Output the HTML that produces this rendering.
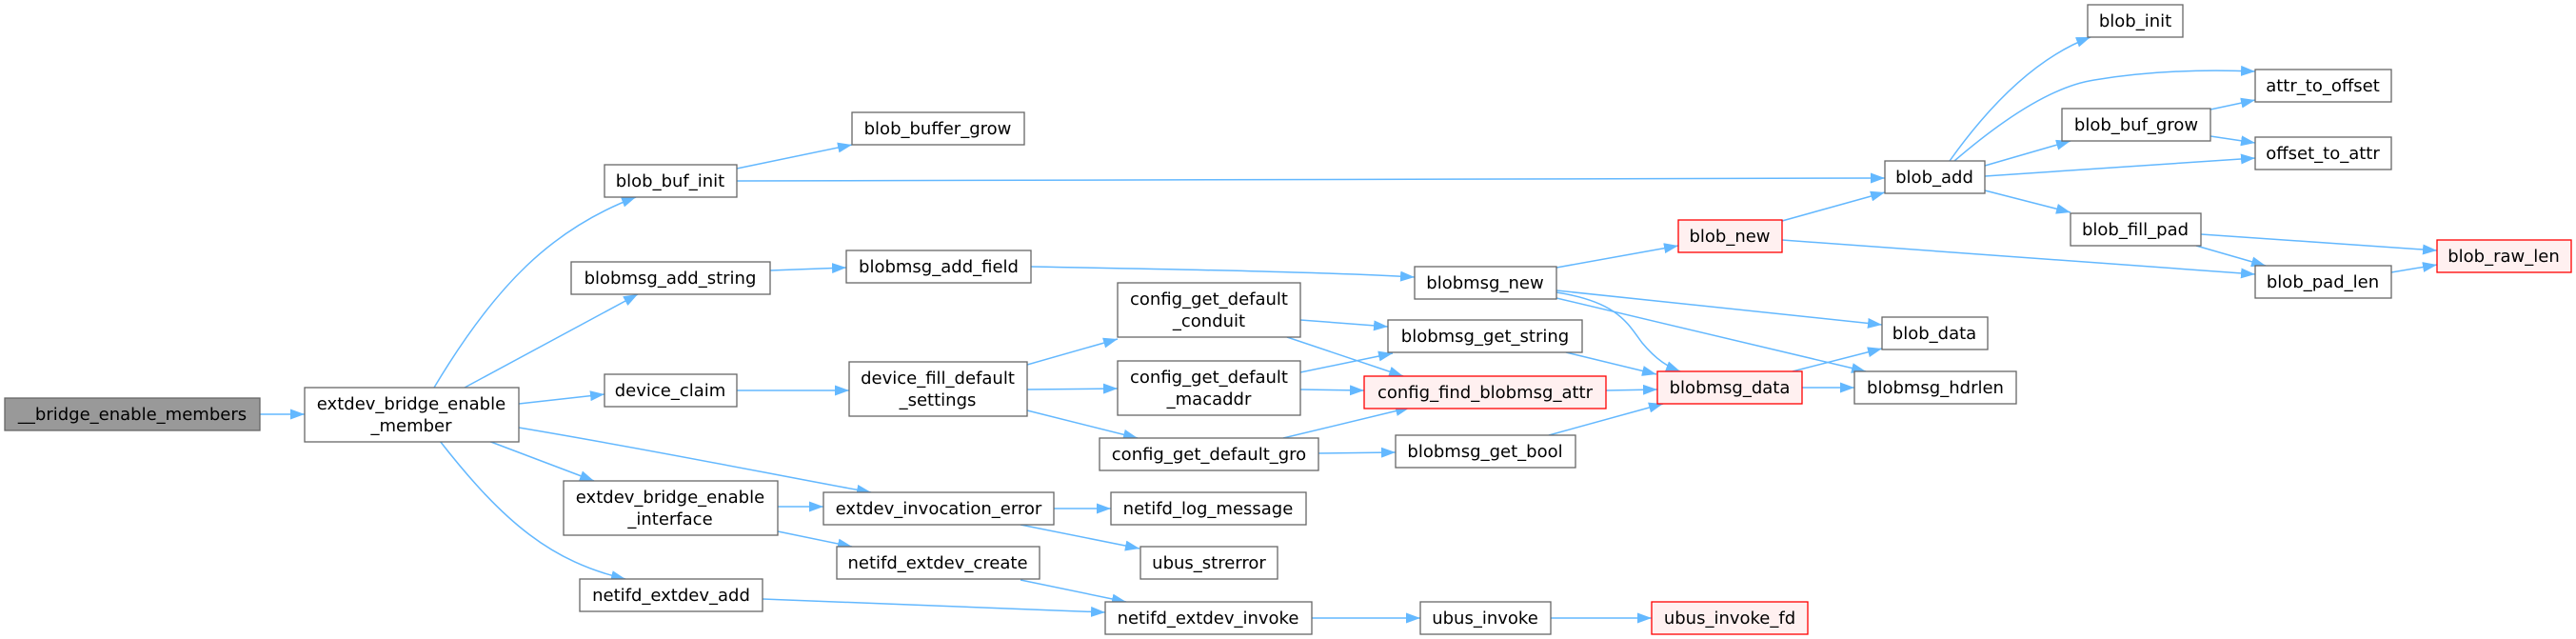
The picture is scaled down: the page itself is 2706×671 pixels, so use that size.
<!DOCTYPE html>
<html><head><meta charset="utf-8"><style>
html,body{margin:0;padding:0;background:#fff;}
svg{display:block;}
text{font-family:"DejaVu Sans","Liberation Sans",sans-serif;font-size:18px;fill:#000;text-anchor:middle;}
.n{fill:#fff;stroke:#666;stroke-width:1.3;}
.r{fill:#fff0f0;stroke:#ff0000;stroke-width:1.3;}
.g{fill:#999;stroke:#666;stroke-width:1.3;}
.e{fill:none;stroke:#63b8ff;stroke-width:1.5;marker-end:url(#a);}
</style></head><body>
<svg width="2706" height="671" viewBox="0 0 2706 671" xmlns="http://www.w3.org/2000/svg">
<defs><marker id="a" markerUnits="userSpaceOnUse" markerWidth="15" markerHeight="11" refX="15" refY="5.5" orient="auto"><path d="M0,0 L15,5.5 L0,11 z" fill="#63b8ff"/></marker></defs>
<g>
<path class="e" d="M273,435 L320,435"/>
<path class="e" d="M456,407 C520,300 580,240 668,207"/>
<path class="e" d="M488,407 L670,309"/>
<path class="e" d="M545,424 L635,414"/>
<path class="e" d="M545,449 C700,475 820,500 915,517"/>
<path class="e" d="M513,463 L624,505"/>
<path class="e" d="M462,463 C530,550 580,590 657,608"/>
<path class="e" d="M774,177 L895,152"/>
<path class="e" d="M774,190 L1980,187"/>
<path class="e" d="M809,284 L889,281"/>
<path class="e" d="M774,410 L892,410"/>
<path class="e" d="M1083,280 C1250,283 1400,286 1486,291"/>
<path class="e" d="M1079,383 L1174,356"/>
<path class="e" d="M1079,409 L1174,408"/>
<path class="e" d="M1079,431 L1195,460"/>
<path class="e" d="M1366,336 L1458,343"/>
<path class="e" d="M1352,354 L1474,395"/>
<path class="e" d="M1366,391 L1463,371"/>
<path class="e" d="M1366,409 L1433,410"/>
<path class="e" d="M1348,460 L1481,428"/>
<path class="e" d="M1385,476 L1466,475"/>
<path class="e" d="M1645,370 L1740,393"/>
<path class="e" d="M1687,410 L1741,409"/>
<path class="e" d="M1627,457 L1747,424"/>
<path class="e" d="M1635,281 L1763,258"/>
<path class="e" d="M1635,305 L1977,341"/>
<path class="e" d="M1635,313 L1960,390"/>
<path class="e" d="M1635,307 C1700,317 1710,340 1725,360 C1740,378 1752,385 1765,390"/>
<path class="e" d="M1872,232 L1980,202"/>
<path class="e" d="M1872,252 L2369,288"/>
<path class="e" d="M1883,390 L1977,366"/>
<path class="e" d="M1893,407 L1948,407"/>
<path class="e" d="M2048,169 C2090,110 2140,60 2196,39"/>
<path class="e" d="M2053,169 C2110,120 2160,90 2200,84 C2260,74 2320,73 2369,75"/>
<path class="e" d="M2085,174 L2175,148"/>
<path class="e" d="M2085,185 L2369,166"/>
<path class="e" d="M2085,200 L2175,223"/>
<path class="e" d="M2322,115 L2369,105"/>
<path class="e" d="M2322,143 L2369,150"/>
<path class="e" d="M2312,246 L2560,263"/>
<path class="e" d="M2307,258 L2380,279"/>
<path class="e" d="M2512,286 L2560,278"/>
<path class="e" d="M817,532 L865,532"/>
<path class="e" d="M817,558 L895,574"/>
<path class="e" d="M1107,534 L1167,534"/>
<path class="e" d="M1072,551 L1197,576"/>
<path class="e" d="M1072,609 L1183,632"/>
<path class="e" d="M801,629 L1161,643"/>
<path class="e" d="M1378,649 L1492,649"/>
<path class="e" d="M1629,649 L1735,649"/>
</g>
<g>
<rect class="g" x="5" y="418" width="268" height="34"/><text x="139" y="441">__bridge_enable_members</text>
<rect class="n" x="320" y="407" width="225" height="57"/><text x="432" y="430">extdev_bridge_enable</text><text x="432" y="453">_member</text>
<rect class="n" x="635" y="173" width="139" height="34"/><text x="704" y="196">blob_buf_init</text>
<rect class="n" x="600" y="275" width="209" height="34"/><text x="704" y="298">blobmsg_add_string</text>
<rect class="n" x="635" y="393" width="139" height="34"/><text x="704" y="416">device_claim</text>
<rect class="n" x="592" y="505" width="225" height="57"/><text x="704" y="528">extdev_bridge_enable</text><text x="704" y="551">_interface</text>
<rect class="n" x="609" y="608" width="192" height="34"/><text x="705" y="631">netifd_extdev_add</text>
<rect class="n" x="895" y="118" width="181" height="34"/><text x="985" y="141">blob_buffer_grow</text>
<rect class="n" x="889" y="263" width="194" height="34"/><text x="986" y="286">blobmsg_add_field</text>
<rect class="n" x="892" y="380" width="187" height="57"/><text x="985" y="403">device_fill_default</text><text x="985" y="426">_settings</text>
<rect class="n" x="865" y="517" width="242" height="34"/><text x="986" y="540">extdev_invocation_error</text>
<rect class="n" x="879" y="574" width="213" height="34"/><text x="985" y="597">netifd_extdev_create</text>
<rect class="n" x="1174" y="297" width="192" height="57"/><text x="1270" y="320">config_get_default</text><text x="1270" y="343">_conduit</text>
<rect class="n" x="1174" y="379" width="192" height="57"/><text x="1270" y="402">config_get_default</text><text x="1270" y="425">_macaddr</text>
<rect class="n" x="1155" y="460" width="230" height="34"/><text x="1270" y="483">config_get_default_gro</text>
<rect class="n" x="1167" y="517" width="205" height="34"/><text x="1269" y="540">netifd_log_message</text>
<rect class="n" x="1198" y="574" width="144" height="34"/><text x="1270" y="597">ubus_strerror</text>
<rect class="n" x="1161" y="632" width="217" height="34"/><text x="1269" y="655">netifd_extdev_invoke</text>
<rect class="n" x="1486" y="280" width="149" height="34"/><text x="1560" y="303">blobmsg_new</text>
<rect class="n" x="1458" y="336" width="204" height="34"/><text x="1560" y="359">blobmsg_get_string</text>
<rect class="r" x="1433" y="395" width="254" height="34"/><text x="1560" y="418">config_find_blobmsg_attr</text>
<rect class="n" x="1466" y="457" width="189" height="34"/><text x="1560" y="480">blobmsg_get_bool</text>
<rect class="n" x="1492" y="632" width="137" height="34"/><text x="1560" y="655">ubus_invoke</text>
<rect class="r" x="1763" y="231" width="109" height="34"/><text x="1817" y="254">blob_new</text>
<rect class="r" x="1741" y="390" width="152" height="34"/><text x="1817" y="413">blobmsg_data</text>
<rect class="r" x="1735" y="632" width="164" height="34"/><text x="1817" y="655">ubus_invoke_fd</text>
<rect class="n" x="2193" y="5" width="100" height="34"/><text x="2243" y="28">blob_init</text>
<rect class="n" x="2369" y="73" width="143" height="34"/><text x="2440" y="96">attr_to_offset</text>
<rect class="n" x="2166" y="114" width="156" height="34"/><text x="2244" y="137">blob_buf_grow</text>
<rect class="n" x="2369" y="144" width="143" height="34"/><text x="2440" y="167">offset_to_attr</text>
<rect class="n" x="1980" y="169" width="105" height="34"/><text x="2032" y="192">blob_add</text>
<rect class="n" x="2175" y="224" width="137" height="34"/><text x="2243" y="247">blob_fill_pad</text>
<rect class="r" x="2560" y="252" width="141" height="34"/><text x="2630" y="275">blob_raw_len</text>
<rect class="n" x="2369" y="279" width="143" height="34"/><text x="2440" y="302">blob_pad_len</text>
<rect class="n" x="1977" y="333" width="111" height="34"/><text x="2032" y="356">blob_data</text>
<rect class="n" x="1948" y="390" width="170" height="34"/><text x="2033" y="413">blobmsg_hdrlen</text>
</g>
</svg>
</body></html>
